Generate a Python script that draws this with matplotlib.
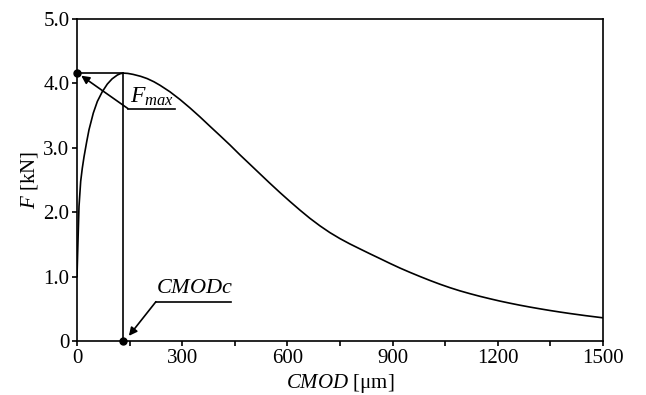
import numpy as np
import matplotlib
matplotlib.use('Agg')
import matplotlib.pyplot as plt

plt.rcParams['font.family'] = 'Liberation Serif'
plt.rcParams['font.size'] = 14
plt.rcParams['mathtext.fontset'] = 'custom'
plt.rcParams['mathtext.rm'] = 'Liberation Serif'
plt.rcParams['mathtext.it'] = 'Liberation Serif:italic'

# F-CMOD curve
cmod = [0, 1.5, 2.9, 5.7, 10.5, 15, 20, 27.5, 34.2, 46.5, 58, 72, 86.5, 100, 115,
        124, 132, 145, 160, 181.5, 200, 219.5, 237, 265, 293.7, 322, 350.7, 380,
        407.7, 436, 464.8, 491, 519, 548, 578.8, 607, 635.9, 664, 692.9, 721,
        749.9, 778, 807, 835.5, 864, 892.5, 921, 949.5, 978, 1006.6, 1035, 1063.6,
        1092, 1120.6, 1149, 1177.6, 1206, 1234.6, 1263, 1291.6, 1320, 1348.7,
        1377, 1405.7, 1450, 1500]
force = [1.0, 1.3, 1.57, 2.09, 2.48, 2.68, 2.86, 3.09, 3.28, 3.54, 3.72, 3.87, 3.99,
         4.07, 4.13, 4.152, 4.16, 4.155, 4.14, 4.11, 4.075, 4.025, 3.97, 3.87, 3.75,
         3.62, 3.48, 3.33, 3.19, 3.045, 2.89, 2.755, 2.61, 2.46, 2.305, 2.168, 2.032,
         1.906, 1.788, 1.684, 1.59, 1.508, 1.43, 1.354, 1.28, 1.205, 1.133, 1.066,
         1.002, 0.94, 0.882, 0.828, 0.779, 0.735, 0.694, 0.656, 0.62, 0.587, 0.556,
         0.527, 0.5, 0.474, 0.45, 0.427, 0.394, 0.36]

f_max = 4.16
cmod_c = 132

fig = plt.figure(figsize=(6.46, 3.95), dpi=100)
ax = fig.add_axes([0.1192, 0.1367, 0.8142, 0.8152])

ax.plot(cmod, force, color='black', linewidth=1.2)
ax.plot([0, cmod_c], [f_max, f_max], color='black', linewidth=1.2)
ax.plot([cmod_c, cmod_c], [0, f_max], color='black', linewidth=1.2)
ax.plot([0, cmod_c], [f_max, 0], 'o', color='black', markersize=5, clip_on=False, zorder=5)

# Fmax label with leader line
ax.plot([145, 280], [3.61, 3.61], color='black', linewidth=1.2)
ax.annotate('', xy=(12, 4.12), xytext=(145, 3.61),
            arrowprops=dict(arrowstyle='-|>', color='black', lw=1.2,
                            mutation_scale=12, shrinkA=0, shrinkB=0))
ax.text(152, 3.615, r'$F_{max}$', fontsize=17, ha='left', va='bottom')

# CMODc label with leader line
ax.plot([225, 440], [0.61, 0.61], color='black', linewidth=1.2)
ax.annotate('', xy=(148, 0.08), xytext=(225, 0.61),
            arrowprops=dict(arrowstyle='-|>', color='black', lw=1.2,
                            mutation_scale=12, shrinkA=0, shrinkB=0))
ax.text(226, 0.66, r'$CMODc$', fontsize=16, ha='left', va='bottom')

ax.set_xlim(0, 1500)
ax.set_ylim(0, 5)
ax.set_xticks([0, 300, 600, 900, 1200, 1500])
ax.set_xticks([150, 450, 750, 1050, 1350], minor=True)
ax.set_yticks([0, 1, 2, 3, 4, 5])
ax.set_yticklabels(['0', '1.0', '2.0', '3.0', '4.0', '5.0'])
ax.tick_params(which='both', direction='out', length=3.5, width=1.2, pad=2, labelsize=15)
for s in ax.spines.values():
    s.set_linewidth(1.2)

ax.set_xlabel(r'$CMOD$ [μm]', fontsize=15, labelpad=3)
ax.set_ylabel(r'$F$ [kN]', fontsize=15, labelpad=2)

plt.savefig('out.png', dpi=100)
